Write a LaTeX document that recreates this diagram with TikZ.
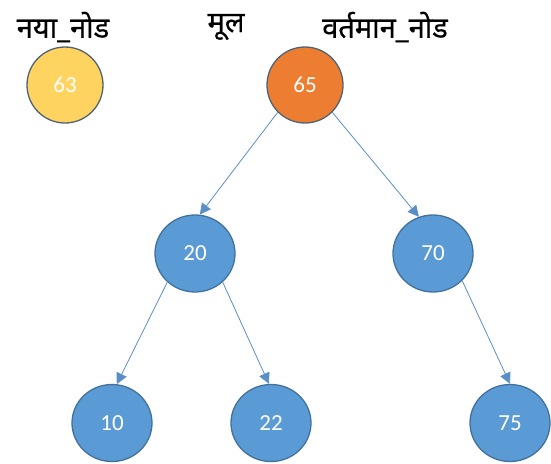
\documentclass[tikz,border=0pt]{standalone}
\usepackage{fontspec}
\setmainfont{Carlito}
\newfontfamily\devfont[Script=Devanagari,FakeBold=0.4]{Noto Sans}
\usetikzlibrary{arrows.meta}
\definecolor{nodeblue}{HTML}{5B9BD5}
\definecolor{blueedge}{HTML}{41719C}
\definecolor{grayedge}{HTML}{4F6375}
\definecolor{nodeorange}{HTML}{ED7D31}
\definecolor{nodeyellow}{HTML}{FFD35F}
\definecolor{linkblue}{HTML}{5B8EC6}
\tikzset{
  treenode/.style={ellipse, draw=blueedge, line width=1.3pt, fill=nodeblue,
    minimum width=80pt, minimum height=77pt, inner sep=0pt,
    text=white, font=\fontsize{23}{26}\selectfont},
  roundnode/.style={circle, draw=grayedge, line width=1.3pt,
    minimum size=76pt, inner sep=0pt,
    text=white, font=\fontsize{23}{26}\selectfont},
  label/.style={font=\devfont\fontsize{29}{32}\selectfont, inner sep=0pt},
  link/.style={draw=linkblue, line width=0.8pt,
    -{Triangle[length=11pt,width=11pt]}}
}
\usetikzlibrary{shapes.geometric}
\begin{document}
\begin{tikzpicture}[x=1pt,y=-1pt]
\useasboundingbox (0,0) rectangle (551,463);
\node[label] (lnew) at (63,27) {नया\_नोड};
\node[label] (lroot) at (226,27) {मूल};
\node[label] (lcur) at (385,27) {वर्तमान\_नोड};
\node[roundnode, fill=nodeyellow] (n63) at (65,85) {63};
\node[roundnode, fill=nodeorange] (n65) at (305,85) {65};
\node[treenode] (n20) at (195,253.5) {20};
\node[treenode] (n70) at (433,253.5) {70};
\node[treenode] (n10) at (112,423) {10};
\node[treenode] (n22) at (271,423) {22};
\node[treenode] (n75) at (510,423) {75};
\draw[link] (n65.-135) -- (n20.83);
\draw[link] (n65.-45) -- (n70.111);
\draw[link] (n20.-134) -- (n10.83);
\draw[link] (n20.-46) -- (n22.93);
\draw[link] (n70.-43) -- (n75.90);
\end{tikzpicture}
\end{document}
